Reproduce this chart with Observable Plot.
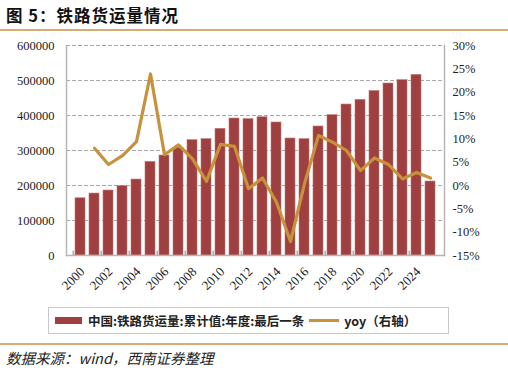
<!DOCTYPE html>
<html>
<head>
<meta charset="utf-8">
<script src="https://cdn.jsdelivr.net/npm/d3@7"></script>
<script src="https://cdn.jsdelivr.net/npm/@observablehq/plot@0.6"></script>
<style>
  html, body { margin: 0; padding: 0; background: #fff; }
  body { width: 508px; height: 374px; position: relative; overflow: hidden; font-family: "Noto Sans CJK SC", sans-serif; }
  #title { position: absolute; left: 6px; top: 3px; font-size: 16.5px; font-weight: 700; color: #111; letter-spacing: 1px; }
  .rule { position: absolute; left: 0; width: 508px; height: 2px; background: #d6ad74; }
  #chart { position: absolute; left: 0; top: 31px; }
  #legend { position: absolute; left: 48px; top: 307px; width: 401px; height: 27px; border: 1px solid #c8c8c8; box-sizing: border-box; display: flex; align-items: center; font-size: 12.5px; font-weight: 700; color: #222; white-space: nowrap; }
  .sw-bar { width: 27px; height: 7px; background: #9f3f3f; margin-left: 6px; margin-right: 6px; }
  .sw-line { width: 30px; height: 3px; background: #c8913c; margin-left: 5px; margin-right: 5px; }
  #caption { position: absolute; left: 6px; top: 347px; font-size: 14.5px; font-style: italic; color: #222; }
</style>
</head>
<body>
<div id="title">图 5：铁路货运量情况</div>
<div class="rule" style="top:29px"></div>
<div id="chart"></div>
<div id="legend"><div class="sw-bar"></div><span>中国:铁路货运量:累计值:年度:最后一条</span><div class="sw-line"></div><span>yoy（右轴）</span></div>
<div class="rule" style="top:343px"></div>
<div id="caption">数据来源：wind，西南证券整理</div>
<script>
const years = [2000,2001,2002,2003,2004,2005,2006,2007,2008,2009,2010,2011,2012,2013,2014,2015,2016,2017,2018,2019,2020,2021,2022,2023,2024,2025];
const freight = [163500,177000,185700,198000,217000,267600,285700,307600,329500,332400,362000,391400,389500,395000,380000,334300,332400,368600,401000,431400,444700,470000,491400,501000,516000,211400];
const yoyYears = [2001,2002,2003,2004,2005,2006,2007,2008,2009,2010,2011,2012,2013,2014,2015,2016,2017,2018,2019,2020,2021,2022,2023,2024,2025];
const yoy = [8.0,4.5,6.4,9.4,23.9,6.6,8.7,5.7,0.9,8.8,8.4,-0.7,1.6,-3.6,-12.0,0.4,10.7,9.3,7.5,3.2,5.9,4.5,1.4,2.8,1.6];
const leftTicks = [0,100000,200000,300000,400000,500000,600000];
const rightTicks = [-15,-10,-5,0,5,10,15,20,25,30];
const xLabelYears = [2000,2002,2004,2006,2008,2010,2012,2014,2016,2018,2020,2022,2024];

const yMax = 600000, rMin = -15, rMax = 30;
const toLeft = p => (p - rMin) / (rMax - rMin) * yMax;

const barData = years.map((y, i) => ({year: y, value: freight[i]}));
const lineData = yoyYears.map((y, i) => ({year: y, v: toLeft(yoy[i])}));

const serif = "'Liberation Serif', 'Times New Roman', serif";
const W = 508, ML = 66, MR = 64;
const bandStep = (W - ML - MR) / years.length;

const chart = Plot.plot({
  width: W,
  height: 270,
  marginLeft: ML,
  marginRight: MR,
  marginTop: 14,
  marginBottom: 46,
  style: {fontFamily: serif, fontSize: "12.5px", color: "#222", background: "transparent"},
  x: {type: "band", domain: years, padding: 0.32, label: null},
  y: {domain: [0, yMax], label: null},
  marks: [
    Plot.gridY(leftTicks, {stroke: "#a8a8a8", strokeOpacity: 1, strokeDasharray: "4,2", strokeWidth: 1}),
    Plot.barY(barData, {x: "year", y: "value", fill: "#9f3f3f", stroke: "#c07a7a", strokeWidth: 0.6}),
    Plot.ruleX(xLabelYears, {x: d => d, y1: 0, y2: 12000, dx: -bandStep / 2, stroke: "#aaaaaa", strokeWidth: 1.5}),
    Plot.frame({anchor: "left", stroke: "#b5b5b5", strokeWidth: 1.5}),
    Plot.frame({anchor: "right", stroke: "#b5b5b5", strokeWidth: 1.5}),
    Plot.frame({anchor: "bottom", stroke: "#b5b5b5", strokeWidth: 1.5}),
    Plot.axisY({ticks: leftTicks, tickFormat: d => String(d), tickSize: 0, tickPadding: 12, anchor: "left", label: null}),
    Plot.axisY({ticks: rightTicks.map(toLeft), tickFormat: d => Math.round(d / yMax * (rMax - rMin) + rMin) + "%", tickSize: 0, tickPadding: 8, anchor: "right", textAnchor: "start", label: null}),
    Plot.axisX({ticks: xLabelYears, tickFormat: d => String(d), tickSize: 0, tickRotate: -45, tickPadding: 14, dx: 2, fontSize: 13, label: null}),
    Plot.line(lineData, {x: "year", y: "v", stroke: "#c8913c", strokeWidth: 3.2, strokeLinejoin: "round"})
  ]
});
document.getElementById("chart").appendChild(chart);
</script>
</body>
</html>
